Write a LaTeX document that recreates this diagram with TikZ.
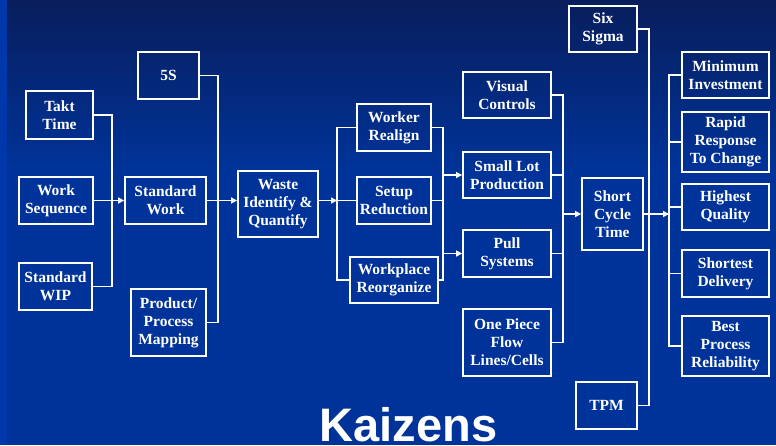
\documentclass[tikz,border=0pt]{standalone}
\usepackage{fontspec}
\setmainfont{Liberation Serif}
\setsansfont{Liberation Sans}
\usetikzlibrary{arrows.meta}

\definecolor{slideblue}{RGB}{0,51,153}
\definecolor{slidetop}{RGB}{8,30,92}
\definecolor{slideedge}{RGB}{0,56,172}

\begin{document}
\begin{tikzpicture}[
  x=1pt, y=-1pt,
  font=\fontsize{15.5}{18}\selectfont\bfseries,
  box/.style={rectangle, draw=white, line width=1.8pt, text=white,
              inner sep=1pt, align=center},
  wire/.style={draw=white, line width=1.8pt},
  flow/.style={wire, -{Triangle[length=6pt,width=6pt]}}
]
% slide background
\useasboundingbox (0,0) rectangle (776,445);
\fill[slideblue] (0,0) rectangle (776,445);
\shade[top color=slidetop, bottom color=slideblue] (0,0) rectangle (776,170);
\fill[slideedge] (0,0) rectangle (7,445);

% inputs to standard work
\node[box, minimum width=67pt, minimum height=48pt] (takt) at (59.5,115)  {Takt\\Time};
\node[box, minimum width=74pt, minimum height=47pt] (wseq) at (56,200.5)  {Work\\Sequence};
\node[box, minimum width=73pt, minimum height=47pt] (swip) at (55.5,286.5) {Standard\\WIP};

\node[box, minimum width=61pt, minimum height=47pt] (fiveS)   at (168.5,75.5)  {5S};
\node[box, minimum width=81pt, minimum height=47pt] (stdwork) at (165.5,200.5) {Standard\\Work};
\node[box, minimum width=75pt, minimum height=67pt] (ppm)     at (168.5,322.5) {Product/\\Process\\Mapping};

\node[box, minimum width=80pt, minimum height=66pt] (waste) at (278,204) {Waste\\Identify \&\\Quantify};

% improvement actions
\node[box, minimum width=74pt, minimum height=47pt] (worker)    at (394,127.5) {Worker\\Realign};
\node[box, minimum width=74pt, minimum height=47pt] (setup)     at (394,200.5) {Setup\\Reduction};
\node[box, minimum width=88pt, minimum height=46pt] (workplace) at (394,280)   {Workplace\\Reorganize};

\node[box, minimum width=88pt, minimum height=46pt] (visual)   at (507,95)    {Visual\\Controls};
\node[box, minimum width=88pt, minimum height=46pt] (smalllot) at (507,175)   {Small Lot\\Production};
\node[box, minimum width=88pt, minimum height=47pt] (pull)     at (507,253.5) {Pull\\Systems};
\node[box, minimum width=88pt, minimum height=67pt] (onepiece) at (507,342.5) {One Piece\\Flow\\Lines/Cells};

\node[box, minimum width=68pt, minimum height=46pt] (sixsigma) at (603,29)    {Six\\Sigma};
\node[box, minimum width=61pt, minimum height=72pt] (short)    at (612.5,214) {Short\\Cycle\\Time};
\node[box, minimum width=61pt, minimum height=47pt] (tpm)      at (606.5,405.5) {TPM};

% results
\node[box, minimum width=87pt, minimum height=46pt] (mininv)   at (725.5,75)    {Minimum\\Investment};
\node[box, minimum width=87pt, minimum height=60pt] (rapid)    at (725.5,142)   {Rapid\\Response\\To Change};
\node[box, minimum width=87pt, minimum height=46pt] (highest)  at (725.5,207)   {Highest\\Quality};
\node[box, minimum width=87pt, minimum height=47pt] (shortest) at (725.5,273.5) {Shortest\\Delivery};
\node[box, minimum width=87pt, minimum height=60pt] (best)     at (725.5,346)   {Best\\Process\\Reliability};

\node[font=\fontsize{47}{47}\selectfont\sffamily\bfseries, text=white,
      inner sep=0pt, anchor=base] (title) at (408.5,441) {Kaizens};

% bus lines
\coordinate (b1) at (112,0);
\coordinate (b2) at (218,0);
\coordinate (b3) at (337,0);
\coordinate (b4) at (443,0);
\coordinate (b5) at (563,0);
\coordinate (b6) at (649,0);
\coordinate (b7) at (669,0);

\draw[wire] (takt.east) -| (b1 |- swip.east) -- (swip.east);
\draw[flow] (wseq.east) -- (stdwork.west);
\draw[wire] (fiveS.east) -| (b2 |- ppm.east) -- (ppm.east);
\draw[flow] (stdwork.east) -- (stdwork.east -| waste.west);

\draw[flow] (waste.east |- stdwork.east) -- (b3 |- stdwork.east);
\draw[wire] (worker.west) -| (b3 |- workplace.west) -- (workplace.west);
\draw[wire] (setup.west) -- (setup.west -| b3);
\draw[wire] (worker.east) -| (b4 |- workplace.east) -- (workplace.east);
\draw[wire] (setup.east) -- (setup.east -| b4);
\draw[flow] (b4 |- smalllot.west) -- (smalllot.west);
\draw[flow] (b4 |- pull.west) -- (pull.west);

\draw[wire] (visual.east) -| (b5 |- onepiece.east) -- (onepiece.east);
\foreach \n in {smalllot,pull}
  \draw[wire] (\n.east) -- (\n.east -| b5);
\draw[flow] (b5 |- short.west) -- (short.west);

\draw[wire] (sixsigma.east) -| (b6 |- tpm.east) -- (tpm.east);
\draw[flow] (short.east) -- (short.east -| b7);
\draw[wire] (mininv.west) -| (b7 |- best.west) -- (best.west);
\foreach \n in {rapid,highest,shortest}
  \draw[wire] (\n.west) -- (\n.west -| b7);
\end{tikzpicture}
\end{document}
